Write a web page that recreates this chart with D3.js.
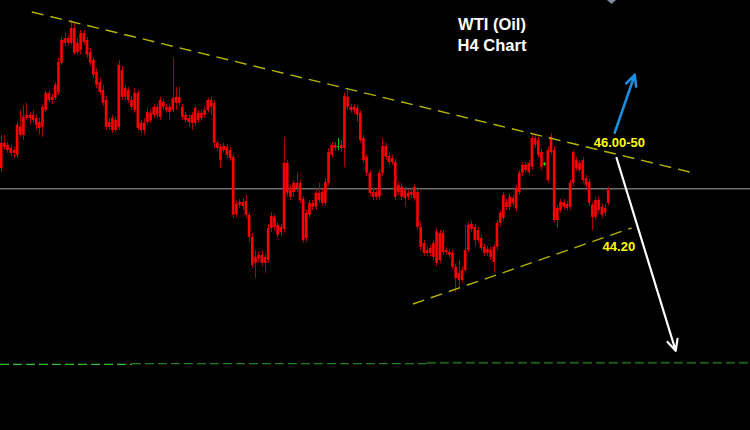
<!DOCTYPE html>
<html>
<head>
<meta charset="utf-8">
<style>
  html, body { margin: 0; padding: 0; background: #000; overflow: hidden; }
</style>
<script src="https://cdn.jsdelivr.net/npm/d3@7"></script>
</head>
<body>
<div id="chart"></div>
<script>

// H4 candles (price units)
var opens = [
  45.80, 46.43, 46.38, 46.30, 46.18, 46.13, 46.83, 46.63, 47.05, 47.13,
  47.13, 47.05, 46.95, 46.83, 47.25, 47.68, 47.58, 47.55, 47.70, 48.43,
  48.93, 49.05, 48.93, 49.30, 48.70, 48.75, 49.18, 49.00, 48.70, 48.50,
  48.20, 47.95, 47.75, 47.50, 46.83, 47.05, 46.75, 46.83, 48.25, 47.80,
  47.75, 47.50, 47.25, 47.68, 46.93, 46.75, 46.95, 47.18, 47.13, 47.33,
  47.08, 47.45, 47.33, 47.33, 47.25, 47.58, 47.43, 47.33, 47.13, 47.05,
  46.93, 46.93, 47.18, 47.05, 47.13, 47.25, 47.50, 47.43, 46.43, 46.33,
  46.25, 46.33, 46.25, 46.08, 44.65, 44.88, 44.95, 44.98, 44.63, 44.08,
  43.43, 43.55, 43.63, 43.58, 43.50, 44.30, 44.58, 44.38, 44.20, 44.28,
  45.93, 45.25, 45.20, 45.30, 45.43, 45.03, 44.05, 44.63, 44.93, 44.83,
  45.18, 45.20, 44.93, 45.43, 46.13, 46.38, 46.35, 46.38, 46.30, 47.58,
  47.33, 47.25, 47.30, 47.18, 46.55, 46.08, 45.68, 45.20, 45.08, 45.08,
  45.68, 46.35, 46.10, 45.95, 45.95, 45.20, 45.33, 45.25, 45.08, 45.13,
  45.05, 45.20, 44.33, 43.93, 43.68, 43.68, 43.58, 43.43, 44.18, 43.70,
  43.75, 43.70, 43.68, 43.33, 43.00, 43.00, 43.25, 43.75, 44.40, 44.33,
  44.00, 44.05, 43.83, 43.68, 43.75, 43.83, 43.83, 44.43, 44.55, 44.95,
  44.83, 45.05, 44.80, 45.20, 45.68, 45.88, 45.70, 45.83, 46.55, 46.50,
  46.20, 45.93, 46.25, 46.20, 46.25, 44.50, 44.75, 44.95, 44.90, 44.83,
  45.43, 46.00, 45.93, 46.00, 45.55, 45.45, 44.88, 44.58, 45.00, 44.83,
  44.68, 44.93
];
var highs = [
  46.63, 46.63, 46.45, 46.38, 46.33, 46.95, 47.25, 47.38, 47.43, 47.20,
  47.25, 47.13, 47.05, 47.38, 47.75, 47.75, 47.65, 47.95, 48.55, 49.08,
  49.18, 49.13, 49.50, 49.45, 49.05, 49.25, 49.25, 49.08, 48.80, 48.58,
  48.30, 48.05, 47.88, 47.58, 47.05, 47.13, 47.08, 48.50, 48.35, 47.88,
  47.83, 47.60, 47.80, 47.75, 47.00, 47.05, 47.30, 47.25, 47.40, 47.40,
  47.58, 47.53, 47.40, 47.40, 48.55, 47.83, 47.83, 47.40, 47.20, 47.13,
  47.20, 47.38, 47.25, 47.25, 47.33, 47.55, 47.58, 47.50, 46.50, 46.40,
  46.43, 46.40, 46.33, 46.15, 45.00, 45.03, 45.05, 45.13, 44.70, 44.18,
  43.75, 43.70, 43.75, 43.65, 44.40, 44.70, 44.65, 44.45, 44.40, 46.58,
  46.00, 45.38, 45.50, 45.68, 45.50, 45.10, 44.75, 45.00, 45.00, 45.25,
  45.43, 45.28, 45.55, 46.30, 46.45, 46.45, 46.55, 46.50, 47.68, 47.80,
  47.40, 47.40, 47.38, 47.25, 46.63, 46.15, 45.75, 45.30, 45.28, 45.75,
  46.55, 46.43, 46.18, 46.13, 46.03, 45.45, 45.43, 45.33, 45.25, 45.30,
  45.40, 45.28, 44.45, 44.00, 43.83, 43.88, 44.00, 44.28, 44.25, 44.25,
  43.83, 43.78, 43.75, 43.40, 43.50, 43.33, 44.38, 44.45, 44.48, 44.40,
  44.33, 44.13, 43.90, 43.85, 43.83, 43.90, 44.50, 44.75, 45.20, 45.03,
  45.15, 45.13, 45.38, 45.75, 45.95, 45.95, 46.00, 46.63, 46.63, 46.58,
  46.28, 45.95, 46.33, 46.68, 46.33, 44.88, 45.03, 45.03, 44.98, 45.50,
  46.25, 46.08, 46.00, 46.08, 45.63, 45.53, 44.95, 45.08, 45.08, 44.90,
  44.88, 45.33
];
var lows = [
  45.70, 46.25, 46.18, 46.10, 46.05, 46.05, 46.58, 46.50, 47.00, 46.88,
  46.95, 46.75, 46.63, 46.58, 47.20, 47.45, 47.40, 47.50, 47.63, 48.38,
  48.85, 48.85, 48.88, 48.63, 48.63, 48.63, 48.88, 48.55, 48.35, 48.05,
  47.80, 47.63, 47.35, 46.75, 46.75, 46.68, 46.70, 46.75, 47.50, 47.50,
  47.43, 47.25, 47.18, 46.73, 46.68, 46.63, 46.88, 46.93, 47.05, 47.05,
  47.00, 47.25, 47.18, 47.00, 47.20, 47.25, 47.35, 47.00, 46.93, 46.83,
  46.75, 46.85, 46.93, 46.98, 47.05, 47.18, 47.13, 46.30, 46.23, 45.80,
  46.18, 46.05, 45.98, 44.55, 44.58, 44.80, 44.75, 44.55, 43.95, 43.30,
  43.05, 43.45, 43.35, 43.18, 43.43, 44.20, 44.25, 44.05, 44.10, 44.20,
  45.08, 45.00, 45.08, 45.20, 44.93, 43.93, 43.95, 44.55, 44.75, 44.75,
  44.93, 44.85, 44.85, 45.35, 46.05, 46.23, 46.25, 46.20, 45.83, 47.25,
  47.18, 47.15, 46.95, 46.43, 45.93, 45.60, 45.10, 45.00, 45.00, 45.00,
  45.60, 46.00, 45.88, 45.88, 45.00, 45.13, 45.00, 44.83, 45.00, 45.05,
  44.98, 44.25, 43.75, 43.60, 43.60, 43.58, 43.50, 43.35, 43.43, 43.63,
  43.63, 43.55, 43.25, 42.70, 42.83, 42.93, 43.18, 43.68, 44.20, 43.83,
  43.93, 43.73, 43.60, 43.60, 43.50, 43.18, 43.75, 44.35, 44.48, 44.75,
  44.75, 44.85, 44.73, 45.13, 45.60, 45.68, 45.63, 45.75, 46.30, 46.05,
  45.75, 45.85, 45.43, 46.13, 44.43, 44.30, 44.68, 44.75, 44.73, 44.75,
  45.35, 45.73, 45.68, 45.43, 45.30, 44.85, 44.25, 44.50, 44.68, 44.55,
  44.60, 44.85
];
var closes = [
  46.43, 46.33, 46.25, 46.18, 46.25, 46.88, 46.63, 47.08, 47.13, 47.05,
  47.00, 46.88, 46.80, 47.33, 47.68, 47.50, 47.50, 47.88, 48.45, 49.00,
  49.05, 48.93, 49.30, 48.68, 48.93, 49.18, 48.95, 48.63, 48.43, 48.13,
  47.88, 47.70, 47.43, 46.83, 46.95, 46.75, 47.00, 48.38, 47.58, 47.58,
  47.50, 47.33, 47.68, 46.80, 46.75, 46.93, 47.20, 47.00, 47.33, 47.13,
  47.50, 47.33, 47.25, 47.20, 47.55, 47.43, 47.58, 47.08, 47.00, 46.95,
  47.13, 47.30, 47.00, 47.18, 47.25, 47.50, 47.33, 46.43, 46.30, 46.00,
  46.35, 46.13, 46.05, 44.63, 44.90, 44.95, 44.85, 44.63, 44.08, 43.38,
  43.58, 43.63, 43.43, 43.43, 44.30, 44.60, 44.33, 44.13, 44.33, 45.93,
  45.18, 45.08, 45.43, 45.43, 45.00, 44.00, 44.68, 44.93, 44.83, 45.18,
  45.00, 44.93, 45.45, 46.20, 46.38, 46.30, 46.33, 46.30, 47.60, 47.33,
  47.25, 47.33, 47.13, 46.50, 46.00, 45.68, 45.18, 45.08, 45.20, 45.68,
  46.35, 46.08, 45.95, 46.05, 45.08, 45.38, 45.08, 45.05, 45.18, 45.20,
  45.33, 44.33, 43.83, 43.68, 43.75, 43.80, 43.93, 44.20, 43.50, 44.18,
  43.70, 43.63, 43.33, 43.05, 43.18, 43.25, 43.75, 44.38, 44.28, 44.00,
  44.25, 43.80, 43.68, 43.78, 43.58, 43.45, 44.43, 44.68, 45.13, 44.83,
  45.08, 44.93, 45.30, 45.68, 45.88, 45.75, 45.93, 46.55, 46.38, 46.13,
  45.83, 45.88, 45.50, 46.58, 44.50, 44.80, 44.95, 44.83, 44.80, 45.43,
  46.20, 45.80, 45.75, 45.50, 45.38, 44.93, 44.58, 45.00, 44.75, 44.63,
  44.80, 45.25
];
// bars the platform paints green (dojis)
var greenBars = [106, 171];

// levels and drawn objects, in (bar index, price)
var bidPrice = 45.28;
var supportLines = [
  {from: -1, to: 41.2, price: 40.89, color: "#2fbf2f", w: 1.2},
  {from: 41.2, to: 134, price: 40.91, color: "#1f7f1f", w: 1.4},
  {from: 134, to: 240, price: 40.93, color: "#1b5a1b", w: 2}
];
var upperTrend = [{i: 9.7, p: 49.70}, {i: 216.7, p: 45.70}];
var lowerTrend = [{i: 129.6, p: 42.40}, {i: 198.4, p: 44.30}];
var blueArrow = [{i: 193.1, p: 46.68}, {i: 199.4, p: 48.13}];
var whiteArrow = [{i: 193.7, p: 46.05}, {i: 212.3, p: 41.23}];
var labels = [
  {text: "46.00-50", i: 186.5, p: 46.33},
  {text: "44.20", i: 189.3, p: 43.73}
];

var width = 750, height = 430;

var svg = d3.select("#chart")
  .append("svg")
    .attr("width", width)
    .attr("height", height)
    .style("display", "block")
    .style("background", "#000");

var n = closes.length;
var x = d3.scaleLinear().domain([0, n - 1]).range([1, 608]);
var y = d3.scaleLinear().domain([39.25, 50]).range([height, 0]);

// bid line
svg.append("line")
  .attr("x1", 0).attr("x2", width)
  .attr("y1", y(bidPrice)).attr("y2", y(bidPrice))
  .attr("stroke", "#6e6e6e")
  .attr("stroke-width", 1.5);

// green dashed level at the bottom
svg.selectAll("line.level")
  .data(supportLines)
  .enter().append("line")
    .attr("class", "level")
    .attr("x1", function(d) { return Math.max(0, x(d.from)); })
    .attr("x2", function(d) { return Math.min(width, x(d.to)); })
    .attr("y1", function(d) { return y(d.price); })
    .attr("y2", function(d) { return y(d.price); })
    .attr("stroke", function(d) { return d.color; })
    .attr("stroke-width", function(d) { return d.w; })
    .attr("stroke-dasharray", "9,4");

// candles
var bars = d3.range(n).map(function(i) {
  return {i: i, o: opens[i], h: highs[i], l: lows[i], c: closes[i]};
});

var candle = svg.append("g").selectAll("g")
  .data(bars)
  .enter().append("g");

candle.append("line")
  .attr("x1", function(d) { return Math.round(x(d.i)) + 0.5; })
  .attr("x2", function(d) { return Math.round(x(d.i)) + 0.5; })
  .attr("y1", function(d) { return y(d.h); })
  .attr("y2", function(d) { return y(d.l); })
  .attr("stroke", function(d) { return greenBars.indexOf(d.i) >= 0 ? "#00c000" : "#b00000"; })
  .attr("stroke-width", 1);

candle.append("rect")
  .attr("x", function(d) { return x(d.i) - 1.1; })
  .attr("width", 2.6)
  .attr("y", function(d) { return y(Math.max(d.o, d.c)); })
  .attr("height", function(d) { return Math.max(1, Math.abs(y(d.o) - y(d.c))); })
  .attr("fill", function(d) { return greenBars.indexOf(d.i) >= 0 ? "#00d000" : "#ff0000"; });

// trend lines
var line = d3.line()
  .x(function(d) { return x(d.i); })
  .y(function(d) { return y(d.p); });

[upperTrend, lowerTrend].forEach(function(t) {
  svg.append("path")
    .attr("d", line(t))
    .attr("fill", "none")
    .attr("stroke", "#b4b400")
    .attr("stroke-width", 1.4)
    .attr("stroke-dasharray", "12,7");
});

// arrows
function arrow(pts, color, w) {
  var x0 = x(pts[0].i), y0 = y(pts[0].p);
  var x1 = x(pts[1].i), y1 = y(pts[1].p);
  var a = Math.atan2(y0 - y1, x0 - x1);
  var len = 12, spread = 0.45;
  var p1 = [x1 + len * Math.cos(a + spread), y1 + len * Math.sin(a + spread)];
  var p2 = [x1 + len * Math.cos(a - spread), y1 + len * Math.sin(a - spread)];
  svg.append("path")
    .attr("d", "M" + x0 + "," + y0 + "L" + x1 + "," + y1 +
               "M" + p1[0] + "," + p1[1] + "L" + x1 + "," + y1 + "L" + p2[0] + "," + p2[1])
    .attr("fill", "none")
    .attr("stroke", color)
    .attr("stroke-width", w)
    .attr("stroke-linecap", "round")
    .attr("stroke-linejoin", "round");
}
arrow(blueArrow, "#1a90e0", 2.6);
arrow(whiteArrow, "#ffffff", 2.2);

// price labels
svg.selectAll("text.lbl")
  .data(labels)
  .enter().append("text")
    .attr("class", "lbl")
    .attr("x", function(d) { return x(d.i); })
    .attr("y", function(d) { return y(d.p); })
    .attr("fill", "#ffff00")
    .style("font-family", "Liberation Sans, Arial, sans-serif")
    .style("font-weight", "bold")
    .style("font-size", "13px")
    .text(function(d) { return d.text; });

// title
svg.append("text")
  .attr("x", 492).attr("y", 30)
  .attr("text-anchor", "middle")
  .attr("fill", "#fff")
  .style("font-family", "Liberation Sans, Arial, sans-serif")
  .style("font-weight", "bold")
  .style("font-size", "16.5px")
  .text("WTI (Oil)");
svg.append("text")
  .attr("x", 492).attr("y", 51)
  .attr("text-anchor", "middle")
  .attr("fill", "#fff")
  .style("font-family", "Liberation Sans, Arial, sans-serif")
  .style("font-weight", "bold")
  .style("font-size", "16.5px")
  .text("H4 Chart");

// small marker at the top edge
svg.append("path")
  .attr("d", "M607,0L616,0L611.5,4Z")
  .attr("fill", "#7f8c99");

</script>
</body>
</html>
